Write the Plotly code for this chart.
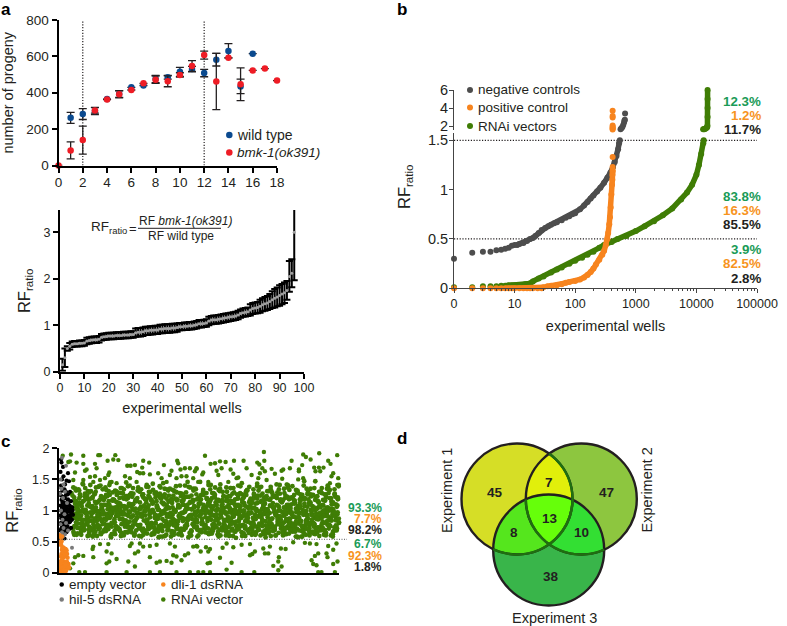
#!/usr/bin/env python3
"""Four panel figure: progeny curves, RF ratios per well, screen scatter and Venn diagram."""

import numpy as np
import plotly.graph_objects as go

WIDTH, HEIGHT = 787, 626
INK = "#231f20"
BLUE = "#0b4a8f"
RED = "#ee1c25"
GREY = "#4d4d4d"
ORANGE = "#f7841e"
GREEN = "#3f7d05"
PCT_GREEN = "#1a9b57"
PCT_ORANGE = "#f7941e"

# panel a, progeny per day
DAYS_WT = [1, 2, 3, 4, 5, 6, 7, 8, 9, 10, 11, 12, 13, 14, 15, 16]
PROGENY_WT = [262, 283, 300, 365, 393, 430, 440, 475, 485, 515, 530, 508, 582, 630, 435, 615]
PROGENY_WT_ERR = [30, 30, 20, 0, 18, 0, 0, 20, 10, 25, 15, 20, 35, 40, 40, 0]
DAYS_BMK = [0, 1, 2, 3, 4, 5, 6, 7, 8, 9, 10, 11, 12, 13, 14, 15, 16, 17, 18]
PROGENY_BMK = [0, 83, 140, 303, 363, 392, 415, 452, 472, 463, 498, 547, 607, 462, 593, 447, 523, 533, 467]
PROGENY_BMK_ERR = [0, 47, 77, 15, 0, 20, 0, 0, 20, 30, 12, 30, 22, 155, 0, 90, 0, 0, 0]

# panel a, sorted RF ratio per well
RF_WELLS = list(range(1, 97))
RF_VALUES = [
    .15, .30, .50, .55, .59, .60, .60, .61, .61, .62, .66, .67, .68, .69, .69, .70,
    .74, .75, .76, .77, .77, .77, .78, .78, .78, .79, .79, .79, .80, .80, .84, .85,
    .85, .86, .88, .88, .89, .89, .90, .90, .92, .92, .93, .93, .93, .94, .94, .95,
    .97, .97, .98, .98, .99, .99, 1.0, 1.01, 1.03, 1.03, 1.04, 1.05, 1.09, 1.11, 1.12, 1.12,
    1.13, 1.14, 1.15, 1.16, 1.17, 1.18, 1.19, 1.20, 1.22, 1.25, 1.27, 1.28, 1.29, 1.33, 1.36, 1.37,
    1.38, 1.41, 1.44, 1.46, 1.48, 1.51, 1.55, 1.58, 1.61, 1.64, 1.67, 1.70, 1.75, 2.05, 2.12, 3.0,
]
RF_ERRORS = [
    .13, .20, .05, .07, .06, .06, .06, .06, .06, .06, .07, .07, .07, .07, .07, .07,
    .07, .07, .07, .07, .07, .07, .07, .07, .07, .07, .07, .07, .07, .07, .09, .09,
    .09, .09, .09, .09, .09, .09, .09, .09, .09, .09, .09, .09, .09, .09, .09, .09,
    .08, .08, .08, .08, .08, .08, .08, .08, .08, .08, .08, .08, .09, .09, .09, .09,
    .09, .09, .09, .09, .09, .09, .09, .09, .09, .09, .09, .09, .09, .12, .12, .12,
    .12, .14, .14, .15, .15, .16, .18, .20, .20, .22, .22, .22, .20, .33, .30, 1.03,
]

# panel b, ranked wells: single low ranks, then the packed part, then above the axis break
NEG_RANK_FEW = [1, 2, 3, 4, 5, 6, 7, 8, 9, 10]
NEG_RF_FEW = [.30, .36, .37, .37, .385, .39, .40, .41, .43, .44]
NEG_RANK_LOW = [11, 12, 14, 16, 18, 20, 22, 25, 28, 32, 36, 40, 45, 50, 60, 70, 80, 90, 100,
                120, 140, 160, 180, 200, 230, 260, 300, 340, 380, 420, 450, 480, 510, 530, 545]
NEG_RF_LOW = [.44, .45, .46, .48, .50, .51, .53, .56, .59, .61, .63, .645, .66, .67, .69, .715, .73, .75, .76,
              .80, .84, .875, .91, .94, .98, 1.02, 1.07, 1.12, 1.17, 1.23, 1.28, 1.34, 1.41, 1.47, 1.5]
NEG_RANK_HIGH = [560, 580, 600, 620, 640, 650, 660, 665]
NEG_RF_HIGH = [1.65, 1.75, 1.9, 2.1, 2.4, 2.6, 2.7, 3.4]
POS_RANK_FEW = [1, 2, 3, 4, 5, 6]
POS_RF_FEW = [0, 0, 0, 0, 0, 0]
POS_RANK_LOW = [7, 8, 9, 10, 12, 14, 16, 18, 20, 24, 28, 30, 35, 40, 50, 60, 70, 80, 100, 120, 140, 160, 180, 200,
                220, 250, 280, 300, 320, 340, 350, 365, 375, 385, 395, 405, 410, 412, 414, 415]
POS_RF_LOW = [0, 0, 0, 0, 0, 0, 0, 0, 0, 0, 0, .01, .02, .025, .03, .04, .055, .065, .075, .09, .11, .135, .165, .2,
              .24, .29, .34, .38, .44, .5, .56, .65, .72, .82, .95, 1.05, 1.1, 1.15, 1.18, 1.2]
POS_RANK_TOP = [415, 415]
POS_RF_TOP = [1.23, 1.33]
POS_RANK_HIGH = [415, 415, 415, 415, 415, 415, 415, 415]
POS_RF_HIGH = [1.6, 1.7, 1.8, 1.9, 2.05, 2.95, 3.1, 3.7]
RNAI_RANK_FEW = [1, 2, 3, 4, 5, 6]
RNAI_RF_FEW = [.01, .01, .02, .02, .02, .025]
RNAI_RANK_LOW = [7, 8, 9, 10, 15, 18, 20, 25, 30, 40, 50, 60, 80, 100, 130, 160, 200, 250, 300, 400, 500, 700,
                 1000, 1400, 2000, 2800, 4000, 5600, 7000, 8500, 10000, 11000, 12000, 13000, 13200]
RNAI_RF_LOW = [.025, .03, .03, .03, .04, .05, .07, .1, .12, .16, .19, .21, .25, .28, .31, .34, .37, .41, .44, .47, .5, .53,
               .58, .63, .68, .74, .81, .9, .97, 1.05, 1.15, 1.25, 1.36, 1.47, 1.5]
RNAI_RANK_HIGH = [12900, 13500, 14000, 14500, 15000, 15200, 15300, 15300, 15300, 15300]
RNAI_RF_HIGH = [1.63, 1.65, 1.7, 1.75, 1.85, 2.0, 3.0, 4.0, 5.0, 6.0]
B_PCT_GREEN = ["12.3%", "83.8%", "3.9%"]
B_PCT_ORANGE = ["1.2%", "16.3%", "82.5%"]
B_PCT_BLACK = ["11.7%", "85.5%", "2.8%"]

# panel c, wells in plate order
EMPTY_WELL = [20, 25, 40, 90, 15, 45, 30, 100, 60, 75, 20, 55, 110, 35, 70, 10, 45, 90, 120, 25, 65, 85, 15, 40, 100, 55, 130, 30, 75, 110,
              20, 50, 90, 125, 35, 65, 105, 10, 45, 80, 115, 25, 60, 95, 130, 40, 70, 110, 20, 55, 85, 120, 30, 65, 100, 15, 45, 75, 110, 35,
              60, 90, 25, 50, 80, 105, 40, 70, 20, 55,
              30, 75, 50, 115, 95, 25, 65, 135, 40, 85, 105, 55, 20, 125, 70, 35, 100, 60, 140, 80, 45, 120, 90, 30, 110, 50, 75, 15, 130, 65,
              20, 85, 40, 105, 60, 95, 115, 25, 70, 50]
EMPTY_RF = [1.82, 1.77, 1.70, 1.60, 1.62, 1.55, 1.50, 1.47, 1.42, 1.48, 1.40, 1.34, 1.30, 1.32, 1.25, 1.28, 1.22, 1.18, 1.15, 1.17, 1.10, 1.14, 1.08, 1.12, 1.08,
           1.04, 1.05, 1.05, 1.02, 1.00, 1.00, .98, .98, .96, .95, .94, .92, .92, .90, .90, .88, .87, .86, .85, .85, .82, .80, .82, .78, .76,
           .75, .72, .72, .70, .70, .68, .66, .65, 1.07, 1.13, 1.20, 1.26, 1.36, 1.01, .93, .84, .97, 1.09, .79, .55,
           1.03, .99, .94, 1.02, 1.10, .88, .96, 1.00, 1.06, .91, .85, 1.12, .80, .95, 1.08, .76, 1.01, .90, .93, 1.04, .83, .98, 1.15, .73, .87, 1.19, .92, .68, 1.05, .78,
           1.24, .86, .97, .81, 1.11, .89, .99, .71, 1.30, .64]
HIL5_WELL = [30, 70, 15, 45, 25, 60, 10, 40, 80, 20, 55, 35, 70, 15, 45, 90, 30, 60, 20, 40, 130, 35]
HIL5_RF = [1.85, 1.72, 1.50, 1.42, 1.35, 1.30, 1.27, 1.20, 1.12, 1.00, .94, .85, .80, .78, .72, .68, .65, .62, .60, .58, .40, .0]
DLI1_WELL = [5, 15, 25, 10, 20, 30, 45, 60, 35, 50, 70, 25, 40, 55, 75, 20, 45, 65, 85, 30, 50, 10, 25, 40, 60, 80, 95, 20, 35, 55, 75, 15, 30, 50, 70,
             40, 65, 30, 55, 80, 45, 20, 70, 35, 60, 90, 25, 50, 75, 100, 15, 40, 65, 85, 30, 55, 20, 45, 70, 10]
DLI1_RF = [.60, .55, .50, .46, .45, .58, .40, .38, .36, .33, .32, .30, .29, .28, .36, .26, .25, .38, .24, .20, .18, .17, .16, .14, .15, .17, .14, .11, .10, .09, .09, .06, .05, .04, .06,
           .35, .31, .37, .27, .30, .33, .52, .34, .41, .29, .12, .20, .13, .11, .08, .13, .09, .12, .07, .08, .06, .02, .03, .03, .01]
RNAI_OUT_WELL = [37, 120, 243, 393, 410, 563, 543, 486, 593, 176, 93, 110, 243, 360, 683, 716, 759, 842, 902, 832, 1049, 1182, 1192, 1125, 1215, 1259, 1309, 1375, 276, 376,
                 503, 493, 782, 809, 842, 260, 160, 310, 360, 460, 660, 909, 992, 1109, 1359, 1225, 1275, 143, 243, 343, 410, 526, 576, 709, 776, 1026, 1076, 1175, 1342, 1392,
                 343, 336, 410, 493, 726, 709, 809, 842, 909, 976, 1109, 1159, 1342, 476, 526, 343, 243, 193, 160, 503, 576, 759, 792, 909, 1009, 1076, 1142, 1175, 1259, 1292,
                 1375, 476, 693, 759, 976, 1125, 1225, 143, 110, 203, 260, 476, 676, 909, 1009, 1175, 1309,
                 1460, 2049, 2442, 2602, 2782, 2469, 2516, 1516, 1560, 1610, 1666, 1750, 1846, 1983, 2003, 2053, 2326, 2692, 2715, 1377, 1443, 1433, 1576, 1626, 1716, 1876, 2126, 2033, 2009, 2059,
                 2159, 2226, 2242, 2309, 2399, 2432, 2399, 2552, 2599, 2645, 2565, 2612, 2742, 2725, 1593, 1743, 1776, 1926, 1993, 2076, 2232, 2392, 2442, 2792, 2709, 2782, 2276, 1793, 1693, 1493,
                 1383, 1417, 1470, 1510, 1493, 1636, 1676, 1743, 1826, 1910, 1959, 1933, 1910, 2043, 2059, 2093, 2109, 2219, 2266, 2342, 2459, 2509, 2575, 2592, 2559, 2526, 2675, 2685, 2692, 2742,
                 2775, 2825, 1610, 1510, 1487, 1726, 2199, 2193, 2143, 2226, 2193, 2542, 2575, 2785, 2742, 1393, 1443, 1510, 1676, 1826, 1953, 2592, 2625, 2759]
RNAI_OUT_RF = [1.88, 1.90, 1.88, 1.89, 1.89, 1.89, 1.82, 1.80, 1.81, 1.77, 1.78, 1.79, 1.75, 1.75, 1.72, 1.72, 1.73, 1.80, 1.77, 1.69, 1.73, 1.80, 1.76, 1.64, 1.66, 1.68, 1.68, 1.68, 1.66, 1.68,
               1.61, 1.57, 1.62, 1.60, 1.60, 1.64, 1.61, 1.54, 1.55, 1.52, 1.55, 1.58, 1.60, 1.57, 1.63, 1.55, 1.55, 1.49, 1.49, 1.46, 1.49, 1.46, 1.44, 1.52, 1.46, 1.52, 1.46, 1.52, 1.52, 1.46,
               .42, .38, .46, .46, .47, .43, .47, .42, .43, .45, .47, .42, .42, .34, .31, .25, .27, .28, .25, .18, .22, .31, .34, .25, .18, .19, .28, .26, .28, .31,
               .43, .15, .18, .10, .16, .16, .20, .15, .07, .01, .01, .01, .01, .01, .01, .01, .01,
               1.88, 1.94, 1.90, 1.92, 1.89, 1.86, 1.82, 1.75, 1.76, 1.79, 1.78, 1.80, 1.80, 1.77, 1.74, 1.80, 1.80, 1.80, 1.75, 1.67, 1.61, 1.58, 1.64, 1.68, 1.66, 1.68, 1.67, 1.68, 1.60, 1.63,
               1.59, 1.64, 1.66, 1.68, 1.66, 1.73, 1.63, 1.69, 1.69, 1.69, 1.63, 1.63, 1.60, 1.55, 1.57, 1.59, 1.52, 1.57, 1.52, 1.49, 1.51, 1.50, 1.52, 1.52, 1.44, 1.41, 1.42, 1.53, 1.46, 1.46,
               .42, .34, .41, .38, .34, .40, .47, .41, .45, .46, .34, .30, .28, .39, .31, .31, .42, .39, .38, .49, .48, .47, .46, .31, .27, .20, .31, .25, .43, .37,
               .47, .56, .24, .16, .15, .16, .25, .18, .11, .10, .04, .14, .12, .18, .14, .01, .01, .01, .05, .01, .01, .01, .01, .01]
# body of the RNAi cloud, one value per well, in percent of the RF ratio
RNAI_CORE_PCT = [
    98, 72, 121, 88, 105, 63, 134, 92, 79, 112, 101, 68, 127, 85, 96, 118, 74, 141, 90, 107, 61, 99, 130, 83, 114, 70, 94, 123, 103, 66,
    87, 137, 109, 77, 95, 125, 59, 100, 116, 81, 132, 91, 71, 108, 97, 128, 64, 86, 119, 104, 76, 93, 139, 111, 69, 89, 122, 102, 60, 84,
    115, 96, 133, 73, 106, 90, 126, 65, 99, 113, 80, 138, 94, 75, 117, 101, 62, 88, 129, 107, 70, 92, 120, 98, 67, 110, 135, 82, 103, 78,
    124, 95, 58, 112, 86, 131, 100, 72, 118, 91, 105, 64, 127, 83, 97, 140, 76, 109, 89, 122, 61, 102, 93, 116, 74, 134, 85, 99, 68, 111,
    125, 80, 104, 71, 96, 128, 87, 113, 63, 106, 120, 92, 77, 137, 100, 84, 117, 69, 94, 108, 130, 73, 98, 60, 115, 88, 123, 103, 79, 90,
    136, 66, 107, 95, 119, 82, 101, 75, 126, 91, 112, 59, 86, 132, 97, 70, 110, 104, 81, 121, 93, 65, 139, 99, 76, 114, 89, 127, 62, 102,
    83, 118, 96, 72, 108, 131, 87, 105, 68, 94, 124, 78, 100, 141, 85, 113, 60, 92, 120, 106, 74, 97, 133, 81, 110, 66, 90, 116, 103, 71,
    128, 95, 84, 122, 58, 99, 107, 77, 135, 88, 112, 64, 101, 93, 125, 79, 117, 69, 104, 86, 130, 96, 73, 109, 61, 91, 121, 83, 138, 100,
    75, 114, 94, 67, 126, 89, 106, 118, 80, 98, 63, 111, 132, 85, 102, 72, 123, 92, 70, 115, 97, 136, 78, 108, 87, 60, 119, 95, 104, 82,
    127, 66, 99, 113, 74, 90, 140, 101, 84, 109, 69, 122, 93, 76, 131, 88, 105, 62, 96, 117, 81, 100, 125, 71, 112, 86, 59, 107, 94, 134,
    79, 103, 65, 120, 91, 98, 128, 73, 110, 83, 115, 68, 89, 137, 102, 77, 95, 124, 61, 106, 92, 118, 85, 70, 100, 130, 80, 111, 97, 64,
    121, 87, 104, 75, 139, 93, 113, 58, 99, 126, 82, 108, 72, 90, 116, 96, 67, 133, 101, 84, 119, 78, 105, 62, 94, 123, 88, 110, 69, 98,
    129, 76, 103, 91, 114, 60, 86, 135, 107, 81, 97, 71, 120, 92, 112, 65, 100, 127, 74, 89, 106, 83, 141, 95, 117, 68, 102, 79, 124, 93,
    109, 61, 87, 131, 98, 73, 115, 104, 85, 66, 122, 90, 110, 77, 136, 96, 59, 101, 118, 82, 107, 70, 94, 128, 88, 113, 63, 99, 75, 125,
    91, 105, 138, 80, 97, 67, 119, 86, 111, 102, 72, 132, 93, 60, 116, 84, 108, 100, 76, 123, 89, 64, 96, 134, 78, 112, 103, 69, 92, 120,
    85, 106, 127, 71, 98, 117, 81, 62, 94, 109, 140, 87, 101, 74, 121, 90, 114, 66, 97, 130, 79, 104, 83, 58, 125, 93, 111, 70, 99, 86,
    118, 76, 135, 95, 107, 63, 88, 122, 102, 73, 113, 91, 68, 128, 82, 100, 116, 60, 96, 105, 77, 133, 89, 110, 65, 98, 124, 84, 71, 119,
    92, 103, 137, 75, 94, 61, 108, 87, 126, 99, 80, 115, 69, 101, 90, 131, 64, 106, 83, 120, 97, 72, 112, 59, 93, 139, 86, 104, 78, 117,
    95, 67, 123, 88, 109, 100, 74, 129, 81, 62, 114, 91, 102, 70, 136, 96, 85, 107, 65, 118, 79, 98, 125, 73, 110, 92, 60, 103, 87, 132,
    76, 113, 94, 68, 121, 99, 83, 141, 105, 71, 89, 116, 63, 97, 127, 80, 108, 90, 101, 58, 124, 86, 112, 75, 95, 134, 69, 104, 82, 119,
    93, 61, 100, 130, 78, 109, 88, 66, 115, 96, 122, 72, 106, 84, 138, 91, 60, 102, 117, 74, 98, 126, 81, 111, 67, 94, 87, 133, 103, 77,
    120, 64, 97, 108, 85, 128, 70, 92, 113, 100, 62, 79, 135, 89, 105, 123, 73, 95, 116, 83, 59, 101, 68, 127, 90, 110, 76, 98, 140, 86,
    107, 65, 119, 93, 71, 131, 82, 104, 96, 114, 61, 88, 125, 75, 99, 112, 69, 137, 91, 80, 106, 121, 63, 94, 102, 78, 117, 85, 129, 72,
    97, 60, 109, 87, 134, 100, 74, 115, 92, 66, 124, 83, 103, 118, 70, 95, 139, 79, 111, 89, 58, 107, 96, 126, 76, 101, 64, 120, 84, 93,
    132, 71, 113, 98, 81, 105, 62, 90, 123, 86, 108, 73, 136, 94, 68, 116, 99, 77, 128, 85, 60, 110, 102, 92, 122, 75, 97, 141, 66, 104,
]
# the packed middle of the cloud
RNAI_MIDDLE_PCT = [
    93, 104, 81, 97, 112, 86, 75, 101, 118, 90, 83, 107, 96, 78, 114, 88, 99, 72, 109, 94, 120, 85, 102, 77, 91, 116, 80, 105, 95, 70,
    111, 87, 98, 74, 123, 92, 82, 106, 76, 100, 115, 89, 71, 103, 94, 84, 119, 79, 108, 97, 73, 113, 90, 86, 101, 122, 77, 95, 110, 83,
    68, 104, 92, 117, 80, 99, 75, 107, 88, 96, 125, 72, 102, 85, 112, 93, 78, 105, 91, 69, 118, 98, 82, 109, 76, 100, 87, 114, 94, 73,
    121, 89, 103, 79, 95, 110, 84, 70, 106, 97, 116, 81, 92, 101, 74, 124, 88, 99, 77, 108, 93, 83, 113, 96, 71, 104, 86, 119, 90, 78,
    102, 94, 111, 75, 98, 85, 107, 67, 100, 122, 82, 91, 115, 79, 105, 95, 72, 109, 87, 97, 118, 76, 103, 89, 112, 83, 70, 99, 93, 106,
    80, 126, 92, 74, 101, 86, 114, 96, 78, 108, 69, 104, 90, 120, 84, 98, 73, 110, 94, 81, 103, 88, 116, 77, 100, 91, 71, 107, 85, 123,
    95, 79, 112, 97, 68, 102, 87, 105, 93, 75, 118, 83, 99, 109, 72, 90, 115, 96, 80, 104, 86, 70, 113, 92, 101, 78, 121, 94, 84, 106,
    74, 98, 89, 110, 82, 117, 95, 76, 103, 91, 67, 108, 100, 85, 124, 79, 97, 112, 73, 93, 105, 87, 71, 119, 96, 83, 102, 90, 114, 77,
    89, 105, 76, 98, 116, 83, 94, 71, 109, 87, 101, 79, 122, 92, 68, 113, 85, 97, 74, 106, 91, 118, 80, 103, 95, 72, 111, 88, 99, 77,
    107, 84, 93, 66, 115, 90, 102, 78, 96, 120, 73, 104, 86, 112, 81, 98, 69, 109, 92, 75, 117, 100, 83, 106, 88, 95, 71, 113, 79, 103,
    91, 124, 76, 97, 85, 110, 68, 101, 93, 80, 119, 87, 105, 74, 96, 108, 82, 90, 115, 72, 99, 86, 122, 78, 104, 94, 70, 112, 83, 100,
    89, 107, 75, 97, 118, 81, 92, 67, 110, 85, 102, 77, 95, 116, 73, 105, 88, 99, 80, 126, 91, 71, 103, 84, 113, 96, 76, 108, 87, 93,
]
# the looser edges of the cloud, above and below its middle
RNAI_EDGE_PCT = [
    128, 66, 135, 72, 119, 61, 142, 77, 124, 69, 131, 58, 126, 74, 138, 64, 121, 79, 133, 70, 145, 62, 117, 75, 129, 67, 136, 60, 123, 73,
    140, 65, 127, 78, 120, 59, 134, 71, 118, 63, 130, 76, 143, 68, 125, 57, 137, 74, 122, 61, 132, 79, 116, 66, 139, 70, 128, 60, 119, 72,
    146, 64, 124, 77, 135, 58, 121, 69, 130, 75, 118, 62, 141, 67, 126, 73, 133, 60, 117, 78, 137, 65, 123, 71, 129, 56, 120, 76, 144, 63,
    127, 68, 115, 74, 134, 61, 122, 79, 138, 66, 119, 70, 131, 59, 125, 72, 142, 64, 116, 77, 128, 62, 136, 69, 121, 75, 133, 57, 118, 67,
    140, 73, 126, 60, 123, 78, 147, 65, 130, 71, 117, 63, 135, 76, 120, 58, 127, 68, 139, 74, 124, 61, 115, 79, 132, 66, 143, 70, 119, 59,
    129, 72, 122, 64, 137, 77, 116, 62, 134, 69, 125, 75, 141, 57, 118, 67, 131, 73, 120, 60, 128, 78, 145, 65, 123, 71, 136, 63, 117, 76,
    130, 58, 126, 68, 138, 74, 121, 61, 133, 79, 115, 66, 127, 70, 144, 59, 119, 72, 135, 64, 124, 77, 129, 62, 140, 69, 116, 75, 122, 57,
    137, 67, 132, 73, 118, 60, 146, 78, 125, 65, 120, 71, 134, 63, 128, 76, 117, 58, 142, 68, 123, 74, 130, 61, 136, 79, 115, 66, 126, 70,
    139, 59, 121, 72, 133, 64, 119, 77, 127, 62, 143, 69, 124, 75, 116, 57, 131, 67, 138, 73, 122, 60, 129, 78, 118, 65, 135, 71, 141, 63,
    120, 76, 125, 58, 132, 68, 117, 74, 147, 61, 128, 79, 123, 66, 136, 70, 115, 59, 130, 72, 126, 64, 140, 77, 119, 62, 134, 69, 121, 75,
]
C_PCT_GREEN = ["93.3%", "6.7%"]
C_PCT_ORANGE = ["7.7%", "92.3%"]
C_PCT_BLACK = ["98.2%", "1.8%"]

# panel d
VENN_NAMES = ["Experiment 1", "Experiment 2", "Experiment 3"]
VENN_COUNTS = [45, 47, 38, 7, 8, 10, 13]


def px(x):
    return x / WIDTH


def py(y):
    return 1 - y / HEIGHT


def dom_x(left, right):
    return [px(left), px(right)]


def dom_y(top, bottom):
    return [py(bottom), py(top)]


def text(fig, x, y, label, size=13.5, color=INK, bold=False, anchor="center", angle=0):
    if bold:
        label = f"<b>{label}</b>"
    fig.add_annotation(
        x=px(x), y=py(y), xref="paper", yref="paper", text=label, showarrow=False,
        xanchor=anchor, yanchor="middle", textangle=angle,
        font=dict(size=size, color=color), borderpad=0, borderwidth=0,
    )


def swatch(fig, x, y, color, label, diameter=6, size=13.5):
    r = diameter / 2
    fig.add_shape(type="circle", xref="paper", yref="paper", x0=px(x - r), x1=px(x + r),
                  y0=py(y + r), y1=py(y - r), fillcolor=color, line_width=0)
    text(fig, x + 7.5, y, label, size=size, anchor="left")


def scatter(x, y, color, size, xa, ya, err=None, line=False):
    trace = dict(x=x, y=y, xaxis=xa, yaxis=ya, showlegend=False, cliponaxis=False,
                 mode="lines+markers" if line else "markers",
                 marker=dict(color=color, size=size, line_width=0))
    if line:
        trace["line"] = dict(color=color, width=size - 0.5)
    if err is not None:
        trace["error_y"] = dict(type="data", array=err, color=INK, thickness=1.3, width=4)
    return go.Scatter(**trace)


def axis_style(font_size=13.5, **extra):
    style = dict(showline=True, linecolor="black", linewidth=2, ticks="outside", ticklen=5,
                 tickwidth=2, tickcolor="black", showgrid=False, zeroline=False,
                 tickfont=dict(size=font_size, color=INK))
    style.update(extra)
    return style


def region_path(circles):
    """Outline of the overlap of circles, walked around the middle of their centres."""
    cx = np.mean([c[0] for c in circles])
    cy = np.mean([c[1] for c in circles])
    pts = []
    for theta in np.linspace(0, 2 * np.pi, 361)[:-1]:
        dx, dy = np.cos(theta), np.sin(theta)
        reach = []
        for x0, y0, r in circles:
            ox, oy = cx - x0, cy - y0
            b = ox * dx + oy * dy
            reach.append(-b + np.sqrt(b * b - (ox * ox + oy * oy - r * r)))
        d = min(reach)
        pts.append((px(cx + d * dx), py(cy + d * dy)))
    return "M" + " L".join(f"{x:.5f},{y:.5f}" for x, y in pts) + " Z"


def arc_inside(circle, other):
    """Open path along the part of circle that lies inside other."""
    x0, y0, r = circle
    ox, oy, or_ = other
    start = np.arctan2(oy - y0, ox - x0)
    half = np.arccos(np.hypot(ox - x0, oy - y0) / (2 * r))
    pts = [(px(x0 + r * np.cos(t)), py(y0 + r * np.sin(t))) for t in np.linspace(start - half, start + half, 40)]
    return "M" + " L".join(f"{x:.5f},{y:.5f}" for x, y in pts)


fig = go.Figure()

# panel a, top
fig.add_trace(scatter(DAYS_WT, PROGENY_WT, BLUE, 6.5, "x", "y", err=PROGENY_WT_ERR))
fig.add_trace(scatter(DAYS_BMK, PROGENY_BMK, RED, 6.5, "x", "y", err=PROGENY_BMK_ERR))
# panel a, bottom
rf_trace = scatter(RF_WELLS, RF_VALUES, "#a0a0a0", 3, "x2", "y2", err=RF_ERRORS)
rf_trace.error_y.update(color="black", thickness=2, width=3.5)
fig.add_trace(rf_trace)
# panel b
fig.add_trace(scatter(NEG_RANK_FEW, NEG_RF_FEW, GREY, 6, "x3", "y3"))
fig.add_trace(scatter(NEG_RANK_LOW, NEG_RF_LOW, GREY, 6, "x3", "y3", line=True))
fig.add_trace(scatter(RNAI_RANK_FEW, RNAI_RF_FEW, GREEN, 6, "x3", "y3"))
fig.add_trace(scatter(RNAI_RANK_LOW, RNAI_RF_LOW, GREEN, 6, "x3", "y3", line=True))
fig.add_trace(scatter(POS_RANK_FEW, POS_RF_FEW, ORANGE, 6, "x3", "y3"))
fig.add_trace(scatter(POS_RANK_LOW, POS_RF_LOW, ORANGE, 6, "x3", "y3", line=True))
fig.add_trace(scatter(POS_RANK_TOP, POS_RF_TOP, ORANGE, 6, "x3", "y3"))
fig.add_trace(scatter(NEG_RANK_HIGH, NEG_RF_HIGH, GREY, 6, "x4", "y4"))
fig.add_trace(scatter(POS_RANK_HIGH, POS_RF_HIGH, ORANGE, 6, "x4", "y4"))
fig.add_trace(scatter(RNAI_RANK_HIGH, RNAI_RF_HIGH, GREEN, 6, "x4", "y4", line=True))
# panel c, the cloud is laid down in passes so the wells do not line up
core_rf = [v / 100 for v in RNAI_CORE_PCT]
middle_rf = [v / 100 for v in RNAI_MIDDLE_PCT]
edge_rf = [v / 100 for v in RNAI_EDGE_PCT]
fig.add_trace(scatter(RNAI_OUT_WELL, RNAI_OUT_RF, GREEN, 4.4, "x5", "y5"))
for part, first, last in [(core_rf[:250], 130, 2810), (core_rf[250:510], 150, 2790),
                          (core_rf[510:], 120, 2820), (middle_rf[:170], 140, 2800), (middle_rf[170:], 128, 2812),
                          (edge_rf[:140], 125, 2815), (edge_rf[140:], 135, 2805)]:
    wells = np.linspace(first, last, len(part)).round()
    fig.add_trace(scatter(wells, part, GREEN, 4.8, "x5", "y5"))
fig.add_trace(scatter(EMPTY_WELL, EMPTY_RF, "black", 4.2, "x5", "y5"))
fig.add_trace(scatter(HIL5_WELL, HIL5_RF, "#7a7a7a", 4, "x5", "y5"))
fig.add_trace(scatter(DLI1_WELL, DLI1_RF, ORANGE, 4.6, "x5", "y5"))

b_ticks = [1, 10, 100, 1000, 10000, 100000]
fig.update_layout(
    width=WIDTH, height=HEIGHT, autosize=False, margin=dict(l=0, r=0, t=0, b=0, pad=0, autoexpand=False),
    paper_bgcolor="white", plot_bgcolor="rgba(0,0,0,0)", showlegend=False,
    font=dict(family="Liberation Sans, Arial, sans-serif", color=INK),
    xaxis=axis_style(domain=dom_x(58.5, 277), anchor="y", range=[0, 18], dtick=2, tick0=0, ticklabelstandoff=-2),
    yaxis=axis_style(domain=dom_y(20, 165.5), anchor="x", range=[0, 800], dtick=200, tick0=0,
                     title=dict(text="number of progeny", font=dict(size=14.5), standoff=9)),
    xaxis2=axis_style(12.5, domain=dom_x(60, 304), anchor="y2", range=[0, 100], dtick=10, tick0=0, ticklabelstandoff=-2,
                      title=dict(text="experimental wells", font=dict(size=14.5), standoff=9)),
    yaxis2=axis_style(12.5, domain=dom_y(210, 371.7), anchor="x2", range=[0, 3.48], dtick=1, tick0=0,
                      title=dict(text="RF<sub>ratio</sub>", font=dict(size=16.5), standoff=9)),
    xaxis3=axis_style(12.5, domain=dom_x(454, 757), anchor="y3", type="log", range=[0, 5], linewidth=1, linecolor="#444444",
                      tickmode="array", tickvals=b_ticks, ticktext=["0", "10", "100", "1000", "10000", "100000"],
                      tickwidth=1, tickcolor="#444444", ticklen=4,
                      minor=dict(ticks="outside", ticklen=2, tickcolor="#444444", tickwidth=1,
                                 tickvals=[m * d for d in b_ticks[:-1] for m in range(2, 10)]),
                      title=dict(text="experimental wells", font=dict(size=14.5), standoff=10)),
    yaxis3=axis_style(14.5, domain=dom_y(133, 288.3), anchor="x3", range=[0, 1.574], linewidth=1, linecolor="#444444",
                      tickmode="array", tickvals=[0, .5, 1, 1.5], ticktext=["0", "0.5", "1", "1.5"],
                      tickwidth=1, tickcolor="#444444", ticklen=4, ticklabelstandoff=-2),
    xaxis4=dict(domain=dom_x(454, 757), anchor="y4", type="log", range=[0, 5], visible=False),
    yaxis4=axis_style(14.5, domain=dom_y(90, 130), anchor="x4", range=[1.556, 6], linewidth=1, linecolor="#444444",
                      tickmode="array", tickvals=[2, 4, 6], tickwidth=1, tickcolor="#444444", ticklen=4, ticklabelstandoff=-2),
    xaxis5=axis_style(domain=dom_x(59, 339), anchor="y5", range=[0, 2800], showticklabels=False, ticks=""),
    yaxis5=axis_style(12.5, domain=dom_y(448.3, 572.7), anchor="x5", range=[0, 2], tickmode="array",
                      tickvals=[0, .5, 1, 1.5, 2], ticktext=["0", "0.5", "1", "1.5", "2"],
                      title=dict(text="RF<sub>ratio</sub>", font=dict(size=16.5), standoff=9)),
)

# dotted guides
dot = dict(color=INK, width=1.2, dash="1.2px,1.6px")
for day in [2, 12]:
    fig.add_shape(type="line", xref="x", yref="y", x0=day, x1=day, y0=0, y1=800, line=dot, layer="below")
for level in [0.5, 1.5]:
    fig.add_shape(type="line", xref="x3", yref="y3", x0=1, x1=100000, y0=level, y1=level, line=dot, layer="below")
fig.add_shape(type="line", xref="paper", yref="paper", x0=px(59), x1=px(347), y0=py(539.3), y1=py(539.3),
              line=dict(color="#555555", width=1, dash="1px,1.5px"))

# panel letters
for letter, lx, ly in [("a", 5.5, 10), ("b", 402, 10), ("c", 5.5, 441), ("d", 402, 439)]:
    text(fig, lx, ly, letter, size=17, color="black", bold=True)

# manual keys
swatch(fig, 229.3, 135, BLUE, "wild type", diameter=6.5, size=14)
swatch(fig, 229.3, 152.5, RED, "<i>bmk-1(ok391)</i>", diameter=6.5, size=13.5)
swatch(fig, 470, 90, GREY, "negative controls", size=13.5)
swatch(fig, 470, 107.5, ORANGE, "positive control", size=13.5)
swatch(fig, 470, 126, GREEN, "RNAi vectors", size=13.5)
swatch(fig, 61.7, 584.5, "black", "empty vector", diameter=4.5)
swatch(fig, 163.3, 584.5, ORANGE, "dli-1 dsRNA", diameter=4.5)
swatch(fig, 61.7, 599.5, "#7a7a7a", "hil-5 dsRNA", diameter=4.5)
swatch(fig, 163.3, 599.5, GREEN, "RNAi vector", diameter=4.5)

# formula in panel a
text(fig, 127, 227, "RF<sub>ratio</sub>", size=13.5, anchor="right")
text(fig, 133, 228, "=", size=13)
text(fig, 185, 220.5, "RF <i>bmk-1(ok391)</i>", size=12)
text(fig, 180.5, 236, "RF wild type", size=12)
fig.add_shape(type="line", xref="paper", yref="paper", x0=px(138), x1=px(221), y0=py(228.3), y1=py(228.3),
              line=dict(color=INK, width=1))

# title of the broken axis, centred on the whole of it
text(fig, 405, 187, "RF<sub>ratio</sub>", size=16.5, angle=-90)

# percentages
rows_b = [101.7, 196, 250], [115.7, 210, 264], [129.3, 224.3, 278.3]
for labels, rows, color in zip([B_PCT_GREEN, B_PCT_ORANGE, B_PCT_BLACK], rows_b, [PCT_GREEN, PCT_ORANGE, INK]):
    for label, row in zip(labels, rows):
        text(fig, 761, row, label, size=13.3, color=color, bold=True, anchor="right")
rows_c = [508.3, 544.3], [519.3, 555.7], [530.3, 567]
for labels, rows, color in zip([C_PCT_GREEN, C_PCT_ORANGE, C_PCT_BLACK], rows_c, [PCT_GREEN, PCT_ORANGE, INK]):
    for label, row in zip(labels, rows):
        text(fig, 381.5, row, label, size=12, color=color, bold=True, anchor="right")

# Venn diagram
c1 = (517, 499, 55.5)
c2 = (581.3, 499, 55.5)
c3 = (548.7, 550, 55.5)
for circles, fill in [
    ([c1], "#d6de26"), ([c2], "#8dc63f"), ([c3], "#39b54a"),
    ([c1, c2], "#e1ef0b"), ([c1, c3], "#55e61d"), ([c2, c3], "#33df33"), ([c1, c2, c3], "#66ff0a"),
]:
    fig.add_shape(type="path", xref="paper", yref="paper", path=region_path(circles), fillcolor=fill, line_width=0)
for x0, y0, r in [c1, c2, c3]:
    fig.add_shape(type="circle", xref="paper", yref="paper", x0=px(x0 - r), x1=px(x0 + r),
                  y0=py(y0 + r), y1=py(y0 - r), line=dict(color=INK, width=2.4))
# the first circles show through the later fills, so their inner arcs read green
for inner, outer in [(c1, c2), (c1, c3), (c2, c3)]:
    fig.add_shape(type="path", xref="paper", yref="paper", path=arc_inside(inner, outer),
                  line=dict(color="#1f6f10", width=2.4))
spots = [(494.5, 492), (606, 492), (550.5, 576), (549, 482), (514, 532), (581, 532), (550, 518)]
for count, (sx, sy) in zip(VENN_COUNTS, spots):
    text(fig, sx, sy, str(count), size=13.5, bold=True)
text(fig, 447, 490, VENN_NAMES[0], size=14.5, angle=-90)
text(fig, 646.5, 490, VENN_NAMES[1], size=14.5, angle=-90)
text(fig, 554.5, 617.5, VENN_NAMES[2], size=14.5)

# the browser's default body margin would push the figure off the window
fig.write_html("out.html", config={"displayModeBar": False},
               post_script="document.body.style.margin='0';document.documentElement.style.overflow='hidden';")
